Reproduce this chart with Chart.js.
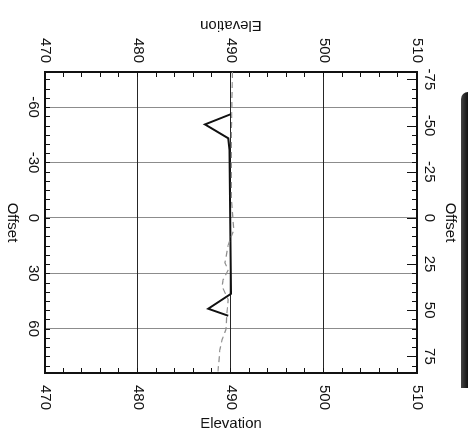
<!DOCTYPE html>
<html>
<head>
<meta charset="utf-8">
<title>Cross Section</title>
<script src="https://cdn.jsdelivr.net/npm/chart.js@4/dist/chart.umd.min.js"></script>
<style>
    html, body { margin: 0; padding: 0; background: #fff; }
    #page { position: relative; width: 468px; height: 435px; overflow: hidden; background: #fff; }
    /* the sheet is plotted upright and turned a quarter clockwise */
    #section { position: absolute; left: 0; top: 0; transform-origin: 0 0; transform: translate(468px, 0) rotate(90deg); }
    #edge { position: absolute; left: 461px; top: 92px; width: 7px; height: 296px; background: linear-gradient(to right, #444, #111); border-top-left-radius: 7px; }
</style>
</head>
<body>
<div id="page">
    <canvas id="section" width="435" height="468"></canvas>
    <div id="edge"></div>
</div>
<script>
// axis ranges
const offsetMin = -79;
const offsetMax = 84;
const elevMin = 470;
const elevMax = 510;

// tick labels
const elevTicks = [470, 480, 490, 500, 510];
const offsetTicksLower = [-60, -30, 0, 30, 60];
const offsetTicksUpper = [-75, -50, -25, 0, 25, 50, 75];

// proposed section (road template with ditches)
const designOffset = [-56.2, -50.6, -43.1, -36.8, 41.1, 49.2, 53.0];
const designElev = [490.0, 487.2, 489.7, 489.85, 490.0, 487.55, 489.7];

// existing ground
const groundOffset = [-79, -63.8, -47.6, -31.4, -9.7, 6.5, 14.6, 24.3, 28.1, 33.5, 37.3, 44.3, 52.4, 60.5, 65.9, 71.4, 83.2];
const groundElev = [490.15, 490.1, 490.05, 490.05, 490.05, 490.3, 489.7, 489.35, 489.7, 489.15, 489.05, 489.7, 489.55, 489.45, 489.05, 488.8, 488.6];

const tickFont = { family: '"Liberation Sans", Arial, sans-serif', size: 15 };
const ink = "#111";

function toPoints(xs, ys) {
    return xs.map((x, i) => ({ x: x, y: ys[i] }));
}

function fixedTicks(values) {
    return (scale) => {
        scale.ticks = values.map((v) => ({ value: v }));
    };
}

// small inward tick marks and the two elevation titles
const sheetMarks = {
    id: "sheetMarks",
    afterDraw(chart) {
        const { ctx, chartArea: area, scales } = chart;

        ctx.save();
        ctx.strokeStyle = ink;
        ctx.lineWidth = 1;
        ctx.beginPath();

        for (let v = elevMin + 2; v < elevMax; v += 2) {
            const y = Math.round(scales.y.getPixelForValue(v)) + 0.5;
            ctx.moveTo(area.left, y);
            ctx.lineTo(area.left + 5, y);
            ctx.moveTo(area.right, y);
            ctx.lineTo(area.right - 5, y);
        }

        for (let v = -75; v <= 80; v += 5) {
            const x = Math.round(scales.x.getPixelForValue(v)) + 0.5;
            ctx.moveTo(x, area.bottom);
            ctx.lineTo(x, area.bottom - 5);
        }

        for (let v = -75; v <= 80; v += 5) {
            const x = Math.round(scales.x2.getPixelForValue(v)) + 0.5;
            const len = v % 25 === 0 ? 10 : 5;
            ctx.moveTo(x, area.top);
            ctx.lineTo(x, area.top + len);
        }
        ctx.stroke();

        const midY = (area.top + area.bottom) / 2;
        ctx.font = '15px "Liberation Sans", Arial, sans-serif';
        ctx.fillStyle = ink;
        ctx.textAlign = "center";
        ctx.textBaseline = "middle";

        ctx.save();
        ctx.translate(scales.y.left + 25, midY);
        ctx.rotate(Math.PI / 2);
        ctx.fillText("Elevation", 0, 0);
        ctx.restore();

        ctx.save();
        ctx.translate(scales.y2.right - 11, midY);
        ctx.rotate(-Math.PI / 2);
        ctx.fillText("Elevation", 0, 0);
        ctx.restore();

        ctx.restore();
    },
};

new Chart(document.getElementById("section"), {
    type: "scatter",

    data: {
        datasets: [
            {
                label: "Ground",
                data: toPoints(groundOffset, groundElev),
                showLine: true,
                borderColor: "#8f8f8f",
                borderWidth: 1.2,
                borderDash: [6, 4],
                pointRadius: 0,
                xAxisID: "x",
                yAxisID: "y",
            },
            {
                label: "Design",
                data: toPoints(designOffset, designElev),
                showLine: true,
                borderColor: ink,
                borderWidth: 2,
                pointRadius: 0,
                xAxisID: "x",
                yAxisID: "y",
            },
        ],
    },

    options: {
        responsive: false,
        animation: false,
        devicePixelRatio: 1,
        layout: { padding: 0 },

        plugins: {
            legend: { display: false },
            tooltip: { enabled: false },
        },

        scales: {
            x: {
                type: "linear",
                position: "bottom",
                min: offsetMin,
                max: offsetMax,
                afterBuildTicks: fixedTicks(offsetTicksLower),
                afterFit: (s) => { s.height = 45; },
                grid: { color: "#8c8c8c", lineWidth: 1, drawTicks: false },
                border: { color: ink, width: 2 },
                ticks: { padding: 3, color: ink, font: tickFont, maxRotation: 0 },
                title: { display: true, text: "Offset", color: ink, font: tickFont, padding: { top: 0, bottom: 3 } },
            },

            x2: {
                type: "linear",
                position: "top",
                min: offsetMin,
                max: offsetMax,
                afterBuildTicks: fixedTicks(offsetTicksUpper),
                afterFit: (s) => { s.height = 51; },
                grid: { drawOnChartArea: false, drawTicks: false },
                border: { color: ink, width: 2 },
                ticks: { padding: 3, color: ink, font: tickFont, maxRotation: 0 },
                title: { display: true, text: "Offset", color: ink, font: tickFont, padding: { top: 9, bottom: 0 } },
            },

            y: {
                type: "linear",
                position: "left",
                min: elevMin,
                max: elevMax,
                afterBuildTicks: fixedTicks(elevTicks),
                afterFit: (s) => { s.width = 72; },
                grid: { color: "#262626", lineWidth: 1, drawTicks: false },
                border: { color: ink, width: 2 },
                ticks: { padding: 9, color: ink, font: tickFont },
            },

            y2: {
                type: "linear",
                position: "right",
                min: elevMin,
                max: elevMax,
                afterBuildTicks: fixedTicks(elevTicks),
                afterFit: (s) => { s.width = 62; },
                grid: { drawOnChartArea: false, drawTicks: false },
                border: { color: ink, width: 2 },
                ticks: { padding: 12, color: ink, font: tickFont },
            },
        },
    },

    plugins: [sheetMarks],
});
</script>
</body>
</html>
